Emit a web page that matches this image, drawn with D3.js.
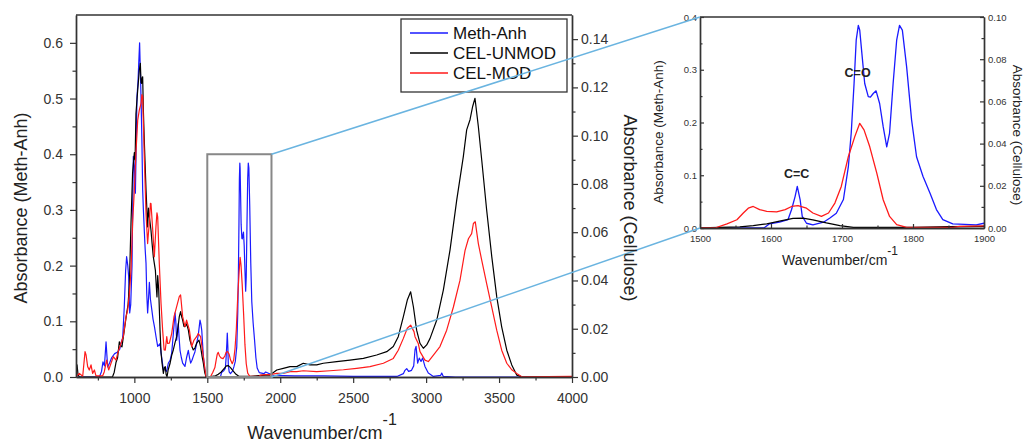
<!DOCTYPE html>
<html><head><meta charset="utf-8">
<script src="https://cdn.jsdelivr.net/npm/d3@7"></script>
<style>body{margin:0;background:#fff}svg{display:block;font-family:"Liberation Sans",Arial,sans-serif}</style>
</head><body><svg id="c" width="1033" height="443"></svg>
<script>
// ---- data ----
const seriesNames = ["Meth-Anh", "CEL-UNMOD", "CEL-MOD"];
const seriesColors = ["#1a1aff", "#000000", "#ff1a1a"];

const methWn = [600,760,775,785,795,806,817,830,845,865,886,900,910,920,931,940,947,955,961,968,975,984,993,1000,1007,1013,1018,1025,1030,1036,1041,1046,1052,1057,1062,1068,1074,1080,1085,1091,1097,1103,1110,1120,1128,1138,1150,1160,1176,1185,1199,1210,1221,1233,1245,1256,1268,1279,1284,1290,1296,1301,1307,1313,1322,1331,1347,1358,1370,1378,1386,1395,1404,1415,1427,1438,1450,1456,1462,1473,1482,1491,1500,1590,1598,1612,1624,1629,1634,1637,1641,1644,1650,1659,1674,1683,1692,1702,1709,1713,1717,1720,1723,1725,1728,1732,1737,1740,1744,1748,1753,1758,1763,1767,1772,1777,1781,1785,1791,1798,1805,1814,1824,1833,1842,1856,1889,1900,1950,2100,2300,2500,2800,2844,2855,2867,2880,2900,2915,2924,2931,2942,2953,2965,2976,2992,3015,3050,3100,3107,3118,3200,4000];
const methAbs = [0,0,0.01,0.027,0.02,0.063,0.018,0.025,0.035,0.042,0.045,0.05,0.062,0.07,0.126,0.19,0.216,0.2,0.18,0.115,0.13,0.2,0.396,0.38,0.33,0.42,0.503,0.53,0.563,0.6,0.55,0.5,0.42,0.336,0.3,0.264,0.23,0.204,0.15,0.115,0.14,0.17,0.14,0.12,0.104,0.09,0.07,0.055,0.06,0.04,0.013,0.013,0.01,0.025,0.03,0.043,0.08,0.115,0.1,0.066,0.08,0.096,0.07,0.048,0.035,0.025,0.019,0.035,0.048,0.035,0.025,0.03,0.037,0.045,0.06,0.075,0.102,0.095,0.084,0.037,0.015,0.001,0,0,0.008,0.011,0.016,0.035,0.06,0.079,0.054,0.022,0.009,0.006,0.011,0.019,0.028,0.054,0.117,0.18,0.274,0.356,0.384,0.375,0.331,0.274,0.249,0.248,0.255,0.26,0.236,0.192,0.154,0.18,0.274,0.356,0.384,0.375,0.306,0.205,0.135,0.098,0.066,0.035,0.016,0.008,0.006,0.009,0.003,0.002,0.002,0.001,0.001,0.006,0.012,0.015,0.01,0.012,0.02,0.049,0.055,0.025,0.034,0.028,0.034,0.019,0.007,0.001,0.003,0.007,0.001,0,0];

const unmodWn = [600,607,614,623,850,862,874,885,897,906,915,923,931,947,957,966,977,988,1000,1005,1011,1023,1034,1041,1046,1050,1054,1057,1062,1068,1080,1091,1097,1103,1114,1122,1130,1144,1150,1155,1160,1167,1176,1183,1190,1199,1206,1212,1218,1224,1232,1245,1256,1267,1278,1290,1300,1308,1317,1324,1331,1340,1347,1358,1370,1381,1392,1404,1415,1427,1443,1454,1463,1473,1482,1491,1500,1556,1575,1594,1612,1631,1645,1659,1678,1697,1716,1800,1850,1900,1930,1976,2021,2067,2113,2158,2204,2250,2295,2387,2478,2570,2661,2730,2775,2809,2844,2871,2894,2913,2935,2958,2981,3004,3027,3073,3118,3164,3210,3255,3278,3301,3319,3335,3358,3381,3415,3450,3484,3518,3553,3587,3621,3656,4000];
const unmodAbs = [0.0015,0.005,0.001,0,0,0.002,0.006,0.008,0.0146,0.013,0.0125,0.016,0.0194,0.0263,0.03,0.0387,0.0638,0.0846,0.093,0.09,0.1092,0.1189,0.1272,0.13,0.122,0.1217,0.124,0.1244,0.11,0.0982,0.0775,0.0622,0.07,0.0664,0.0608,0.055,0.0498,0.0443,0.038,0.0332,0.042,0.036,0.0194,0.01,0.0057,0.0015,0.004,0.0043,0.001,0.0001,0.003,0.0057,0.009,0.0112,0.014,0.0167,0.021,0.025,0.0271,0.025,0.0236,0.021,0.0209,0.022,0.0195,0.0153,0.013,0.0112,0.012,0.014,0.0153,0.0126,0.009,0.0057,0.002,0.0001,0,0.0005,0.0011,0.002,0.0033,0.0046,0.0047,0.0039,0.0024,0.0011,0.0003,0.0003,0.0006,0.0008,0.0008,0.0029,0.0036,0.0043,0.0043,0.0057,0.005,0.005,0.0057,0.0064,0.007,0.0077,0.0091,0.0105,0.0126,0.0167,0.025,0.0319,0.0353,0.029,0.0194,0.0139,0.0119,0.0133,0.016,0.0236,0.036,0.0527,0.0734,0.0913,0.1024,0.1066,0.1121,0.1155,0.1038,0.09,0.0692,0.0499,0.0333,0.0208,0.0111,0.005,0.0008,0.0001,0];

const modWn = [600,623,646,662,669,680,691,703,714,726,737,783,794,810,824,840,856,874,892,908,924,943,954,966,977,988,1000,1011,1023,1034,1046,1052,1057,1062,1068,1080,1091,1097,1103,1110,1114,1126,1137,1148,1155,1160,1171,1183,1194,1204,1212,1222,1228,1240,1251,1256,1272,1290,1308,1317,1331,1347,1358,1377,1393,1409,1427,1438,1454,1473,1491,1503,1521,1538,1552,1561,1568,1575,1584,1594,1608,1620,1629,1638,1650,1659,1671,1681,1690,1699,1709,1718,1725,1731,1739,1749,1758,1767,1777,1791,1856,1866,1900,1930,1976,2021,2067,2113,2158,2250,2341,2433,2524,2615,2707,2775,2809,2844,2871,2894,2917,2924,2946,2958,2992,3015,3050,3095,3141,3187,3232,3267,3290,3312,3324,3337,3358,3381,3415,3450,3484,3518,3553,3587,3621,3656,4000];
const modAbs = [0,0.0015,0.0003,0.0105,0.0091,0.0043,0.0029,0.005,0.0015,0.0029,0.0005,0.0005,0.0022,0.007,0.0029,0.0057,0.0084,0.007,0.0111,0.0139,0.0167,0.025,0.0277,0.0346,0.0443,0.0638,0.0775,0.093,0.1064,0.1106,0.1134,0.117,0.1162,0.105,0.0914,0.0678,0.0553,0.06,0.0638,0.072,0.0719,0.0608,0.0498,0.0622,0.068,0.0664,0.047,0.0304,0.0194,0.0112,0.0111,0.0167,0.0139,0.014,0.0167,0.018,0.025,0.0292,0.0333,0.034,0.025,0.0209,0.0236,0.0195,0.0126,0.0153,0.0167,0.018,0.0167,0.0084,0.0001,0,0,0.002,0.0039,0.0071,0.0094,0.0102,0.0087,0.0079,0.0076,0.0087,0.0102,0.0106,0.0094,0.0071,0.0055,0.0071,0.0118,0.0197,0.0339,0.0433,0.0496,0.0465,0.0386,0.026,0.0134,0.0055,0.0016,0.0003,0.0003,0.0008,0.001,0.001,0.0015,0.0015,0.0022,0.0022,0.0026,0.0022,0.0026,0.003,0.0036,0.0043,0.0057,0.0077,0.0111,0.016,0.0202,0.0215,0.0188,0.0167,0.0139,0.0105,0.007,0.0064,0.0091,0.0126,0.0194,0.029,0.04,0.0525,0.0573,0.0594,0.0636,0.0643,0.0553,0.0484,0.0387,0.029,0.0194,0.0111,0.0057,0.003,0.0015,0.0001,0.0003];

// axis ticks
const mainXTicks = [1000,1500,2000,2500,3000,3500,4000];
const mainXMinor = [750,1250,1750,2250,2750,3250,3750];
const mainYLTicks = [0,0.1,0.2,0.3,0.4,0.5,0.6];
const mainYLMinor = [0.05,0.15,0.25,0.35,0.45,0.55];
const mainYRTicks = [0,0.02,0.04,0.06,0.08,0.10,0.12,0.14];
const mainYRMinor = [0.01,0.03,0.05,0.07,0.09,0.11,0.13];
const insetXTicks = [1500,1600,1700,1800,1900];
const insetXMinor = [1550,1650,1750,1850];
const insetYLTicks = [0,0.1,0.2,0.3,0.4];
const insetYLMinor = [0.05,0.15,0.25,0.35];
const insetYRTicks = [0,0.02,0.04,0.06,0.08,0.10];
const insetYRMinor = [0.01,0.03,0.05,0.07,0.09];
const zoomBox = {x0:1500, x1:1940, y0:0, y1:0.4};

// ---- drawing ----
const svg = d3.select("#c");
const AX = "#333";
const toPts = (wn, v) => wn.map((w,i)=>[w, v[i]]);
const meth = toPts(methWn, methAbs), unmod = toPts(unmodWn, unmodAbs), mod = toPts(modWn, modAbs);

function styleAxis(g, fs) {
  g.select(".domain").attr("stroke", AX).attr("stroke-width", 1.4);
  g.selectAll(".tick line").attr("stroke", AX).attr("stroke-width", 1.2);
  g.selectAll(".tick text").attr("fill", "#333").attr("font-size", fs)
    .attr("font-family", '"Liberation Sans",Arial,sans-serif');
  g.attr("font-family", null).attr("font-size", null);
}

function panel(opt) {
  const {x, yL, yR, id, xt, xm, ylt, ylm, yrt, yrm, inward, fs, major, minor, pads, ylFmt, yrFmt, lw} = opt;
  const [x0, x1] = x.range(), [yb, yt] = yL.range();
  const clip = svg.append("clipPath").attr("id", id).append("rect")
    .attr("x", x0).attr("y", yt).attr("width", x1 - x0).attr("height", yb - yt);
  const gl = svg.append("g").attr("clip-path", `url(#${id})`);
  const lines = [[meth, yL], [unmod, yR], [mod, yR]];
  lines.forEach(([d, ys], i) => {
    gl.append("path").datum(d).attr("fill", "none").attr("stroke", seriesColors[i])
      .attr("stroke-width", lw).attr("stroke-linejoin", "round")
      .attr("d", d3.line().x(p => x(p[0])).y(p => ys(p[1])));
  });
  const s = inward ? -1 : 1;
  // top frame
  svg.append("line").attr("x1", x0).attr("x2", x1).attr("y1", yt).attr("y2", yt)
    .attr("stroke", AX).attr("stroke-width", 1.4);
  // minor axes
  const mk = (axis, sc, vals, pos) => svg.append("g").attr("transform", pos)
    .call(axis(sc).tickValues(vals).tickSize(s * minor).tickSizeOuter(0).tickFormat(""))
    .call(g => styleAxis(g, fs));
  mk(d3.axisBottom, x, xm, `translate(0,${yb})`);
  mk(d3.axisLeft, yL, ylm, `translate(${x0},0)`);
  mk(d3.axisRight, yR, yrm, `translate(${x1},0)`);
  svg.append("g").attr("transform", `translate(0,${yb})`)
    .call(d3.axisBottom(x).tickValues(xt).tickSize(s * major).tickSizeOuter(0).tickPadding(pads[0]).tickFormat(d3.format("d")))
    .call(g => styleAxis(g, fs));
  svg.append("g").attr("transform", `translate(${x0},0)`)
    .call(d3.axisLeft(yL).tickValues(ylt).tickSize(s * major).tickSizeOuter(0).tickPadding(pads[1]).tickFormat(d3.format(ylFmt)))
    .call(g => styleAxis(g, fs));
  svg.append("g").attr("transform", `translate(${x1},0)`)
    .call(d3.axisRight(yR).tickValues(yrt).tickSize(s * major).tickSizeOuter(0).tickPadding(pads[2]).tickFormat(d3.format(yrFmt)))
    .call(g => styleAxis(g, fs));
}

// main chart
const x = d3.scaleLinear([600, 4000], [76, 572]);
const yL = d3.scaleLinear([0, 0.65], [377, 15]);
const yR = d3.scaleLinear([0, 0.15], [377, 15]);
panel({x, yL, yR, id: "clipMain", xt: mainXTicks, xm: mainXMinor, ylt: mainYLTicks, ylm: mainYLMinor,
  yrt: mainYRTicks, yrm: mainYRMinor, inward: false, fs: 14, major: 6, minor: 3.5, pads: [10, 7, 3],
  ylFmt: ".1f", yrFmt: ".2f", lw: 1.2});

// inset
const ix = d3.scaleLinear([1500, 1900], [700, 984]);
const iyL = d3.scaleLinear([0, 0.4], [228, 17]);
const iyR = d3.scaleLinear([0, 0.1], [228, 17]);
panel({x: ix, yL: iyL, yR: iyR, id: "clipInset", xt: insetXTicks, xm: insetXMinor, ylt: insetYLTicks, ylm: insetYLMinor,
  yrt: insetYRTicks, yrm: insetYRMinor, inward: true, fs: 9.5, major: 4, minor: 2.5, pads: [7, 3, 4],
  ylFmt: ".1f", yrFmt: ".2f", lw: 1.3});

// zoom box
svg.append("rect").attr("x", x(zoomBox.x0)).attr("y", yL(zoomBox.y1))
  .attr("width", x(zoomBox.x1) - x(zoomBox.x0)).attr("height", yL(zoomBox.y0) - yL(zoomBox.y1))
  .attr("fill", "none").attr("stroke", "#888").attr("stroke-width", 2);

// legend
const lg = svg.append("g");
lg.append("rect").attr("x", 401).attr("y", 19).attr("width", 166).attr("height", 73)
  .attr("fill", "#fff").attr("stroke", AX).attr("stroke-width", 1.3);
seriesNames.forEach((n, i) => {
  const yy = 33 + i * 20;
  lg.append("line").attr("x1", 410).attr("x2", 448).attr("y1", yy).attr("y2", yy)
    .attr("stroke", seriesColors[i]).attr("stroke-width", 1.3);
  lg.append("text").attr("x", 453).attr("y", yy + 6).attr("font-size", 17).attr("fill", "#111").text(n);
});

// connector lines
const conn = "#6ab4e0";
svg.append("line").attr("x1", x(zoomBox.x1)).attr("y1", yL(zoomBox.y1)).attr("x2", ix(1500)).attr("y2", iyL(0.4))
  .attr("stroke", conn).attr("stroke-width", 1.5);
svg.append("line").attr("x1", x(zoomBox.x1)).attr("y1", yL(zoomBox.y0)).attr("x2", ix(1500)).attr("y2", iyL(0))
  .attr("stroke", conn).attr("stroke-width", 1.5);

// titles
function xTitle(cx, by, fs, sfs, dy) {
  const t = svg.append("text").attr("x", cx).attr("y", by).attr("text-anchor", "middle")
    .attr("font-size", fs).attr("fill", "#222");
  t.append("tspan").text("Wavenumber/cm");
  t.append("tspan").attr("font-size", sfs).attr("dy", -dy).text("-1");
}
xTitle(322, 439, 18, 16, 14);
xTitle(840, 265, 14, 12, 10);

svg.append("text").attr("transform", "translate(27,208) rotate(-90)").attr("text-anchor", "middle")
  .attr("font-size", 18).attr("fill", "#222").text("Absorbance (Meth-Anh)");
svg.append("text").attr("transform", "translate(624,208) rotate(90)").attr("text-anchor", "middle")
  .attr("font-size", 18).attr("fill", "#222").text("Absorbance (Cellulose)");
svg.append("text").attr("transform", "translate(663,132) rotate(-90)").attr("text-anchor", "middle")
  .attr("font-size", 13.5).attr("fill", "#222").text("Absorbance (Meth-Anh)");
svg.append("text").attr("transform", "translate(1013,135) rotate(90)").attr("text-anchor", "middle")
  .attr("font-size", 13.5).attr("fill", "#222").text("Absorbance (Cellulose)");

// annotations
svg.append("text").attr("x", ix(1722)).attr("y", 77).attr("text-anchor", "middle")
  .attr("font-size", 12.5).attr("font-weight", "bold").attr("fill", "#222").text("C=O");
svg.append("text").attr("x", ix(1636)).attr("y", 178).attr("text-anchor", "middle")
  .attr("font-size", 12.5).attr("font-weight", "bold").attr("fill", "#222").text("C=C");
</script></body></html>
